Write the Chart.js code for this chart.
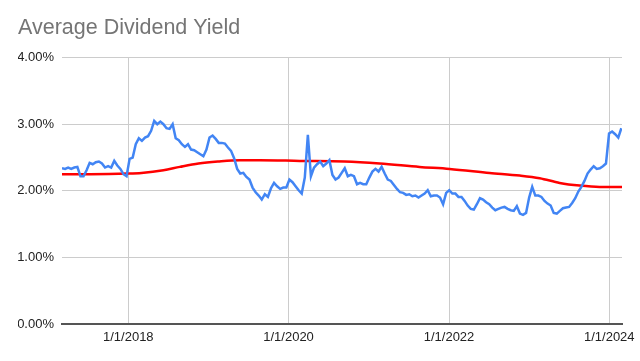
<!DOCTYPE html>
<html>
<head>
<meta charset="utf-8">
<script src="https://cdn.jsdelivr.net/npm/chart.js@4/dist/chart.umd.min.js"></script>
<style>
  html, body { margin: 0; padding: 0; background: #ffffff; }
  canvas { display: block; }
</style>
</head>
<body>
<canvas id="yieldChart" width="640" height="361"></canvas>
<script>
// ===== DATA =====
// x values are days counted from 1/1/2018
const yieldStartDay = -302;   // first observation (early March 2017)
const yieldStepDays = 14;     // one value every two weeks
const yieldValues = [
  2.34, 2.33, 2.35, 2.33, 2.35, 2.36, 2.22, 2.22, 2.31, 2.42,
  2.40, 2.43, 2.44, 2.41, 2.35, 2.37, 2.35, 2.45, 2.38, 2.33,
  2.25, 2.22, 2.48, 2.50, 2.70, 2.79, 2.75, 2.80, 2.82, 2.90,
  3.05, 3.00, 3.04, 3.00, 2.94, 2.93, 3.00, 2.79, 2.76, 2.70,
  2.66, 2.70, 2.62, 2.61, 2.58, 2.55, 2.52, 2.62, 2.80, 2.83,
  2.78, 2.72, 2.72, 2.71, 2.65, 2.60, 2.49, 2.33, 2.26, 2.27,
  2.21, 2.17, 2.05, 1.98, 1.93, 1.87, 1.95, 1.91, 2.04, 2.12,
  2.07, 2.03, 2.05, 2.05, 2.17, 2.13, 2.07, 2.01, 1.96, 2.20,
  2.84, 2.22, 2.35, 2.40, 2.44, 2.37, 2.41, 2.46, 2.24, 2.17,
  2.20, 2.27, 2.34, 2.22, 2.24, 2.22, 2.10, 2.12, 2.10, 2.10,
  2.20, 2.29, 2.33, 2.29, 2.36, 2.26, 2.17, 2.15, 2.09, 2.03,
  1.98, 1.97, 1.94, 1.95, 1.92, 1.93, 1.90, 1.93, 1.96, 2.01,
  1.92, 1.93, 1.93, 1.90, 1.80, 1.97, 2.01, 1.96, 1.96, 1.91,
  1.91, 1.85, 1.78, 1.73, 1.72, 1.80, 1.89, 1.87, 1.83, 1.80,
  1.75, 1.71, 1.73, 1.75, 1.76, 1.73, 1.71, 1.70, 1.77, 1.66,
  1.64, 1.67, 1.90, 2.06, 1.93, 1.93, 1.91, 1.85, 1.81, 1.78,
  1.67, 1.66, 1.70, 1.74, 1.75, 1.76, 1.82, 1.89, 1.99, 2.06,
  2.15, 2.26, 2.32, 2.37, 2.33, 2.34, 2.37, 2.41, 2.86, 2.89,
  2.85, 2.80, 2.94
];

// long moving average (red)
const avgDays = [-302, -174, 0, 60, 160, 235, 320, 408, 508, 599, 781, 986, 1145, 1327, 1464, 1646, 1783, 1874, 1965, 2056, 2147, 2249];
const avgValues = [2.25, 2.25, 2.26, 2.27, 2.31, 2.36, 2.41, 2.44, 2.46, 2.46, 2.45, 2.44, 2.41, 2.36, 2.33, 2.27, 2.23, 2.19, 2.12, 2.08, 2.06, 2.06];

const xTickDays = [0, 730, 1461, 2191];
const xTickLabels = ["1/1/2018", "1/1/2020", "1/1/2022", "1/1/2024"];
const yTicks = [0, 1, 2, 3, 4];

// ===== BUILD =====
const yieldPoints = yieldValues.map((v, i) => ({ x: yieldStartDay + i * yieldStepDays, y: v }));
const avgPoints = avgValues.map((v, i) => ({ x: avgDays[i], y: v }));

const FONT = "'Liberation Sans', Arial, sans-serif";

const ctx = document.getElementById("yieldChart").getContext("2d");

new Chart(ctx, {
  type: "line",
  data: {
    datasets: [
      {
        label: "Yield",
        data: yieldPoints,
        borderColor: "#4285f4",
        borderWidth: 2.5,
        pointRadius: 0,
        tension: 0,
        fill: false
      },
      {
        label: "Average",
        data: avgPoints,
        borderColor: "#ff0000",
        borderWidth: 2.5,
        pointRadius: 0,
        cubicInterpolationMode: "monotone",
        fill: false
      }
    ]
  },
  options: {
    responsive: false,
    animation: false,
    devicePixelRatio: 1,
    layout: {
      padding: { left: 18, right: 18, top: 0, bottom: 0 }
    },
    plugins: {
      legend: { display: false },
      tooltip: { enabled: false },
      title: {
        display: true,
        text: "Average Dividend Yield",
        align: "start",
        color: "#757575",
        font: { family: FONT, size: 21.5, weight: "normal" },
        padding: { top: 15, bottom: 16.7 }
      }
    },
    scales: {
      x: {
        type: "linear",
        min: -302,
        max: 2249,
        afterBuildTicks: scale => {
          scale.ticks = xTickDays.map(v => ({ value: v }));
        },
        afterFit: scale => { scale.height = 36.7; },
        grid: {
          color: "#cccccc",
          lineWidth: 1,
          drawTicks: false
        },
        border: {
          display: true,
          color: "#555555",
          width: 2
        },
        ticks: {
          color: "#222222",
          padding: 5,
          maxRotation: 0,
          autoSkip: false,
          font: { family: FONT, size: 13 },
          callback: value => xTickLabels[xTickDays.indexOf(value)] || ""
        }
      },
      y: {
        type: "linear",
        min: 0,
        max: 4,
        afterBuildTicks: scale => {
          scale.ticks = yTicks.map(v => ({ value: v }));
        },
        afterFit: scale => { scale.width = 44; },
        grid: {
          color: c => (c.tick && c.tick.value === 0 ? "rgba(0,0,0,0)" : "#cccccc"),
          lineWidth: 1,
          drawTicks: false
        },
        border: { display: false },
        ticks: {
          color: "#222222",
          padding: 8,
          font: { family: FONT, size: 13 },
          callback: value => value.toFixed(2) + "%"
        }
      }
    }
  }
});
</script>
</body>
</html>
